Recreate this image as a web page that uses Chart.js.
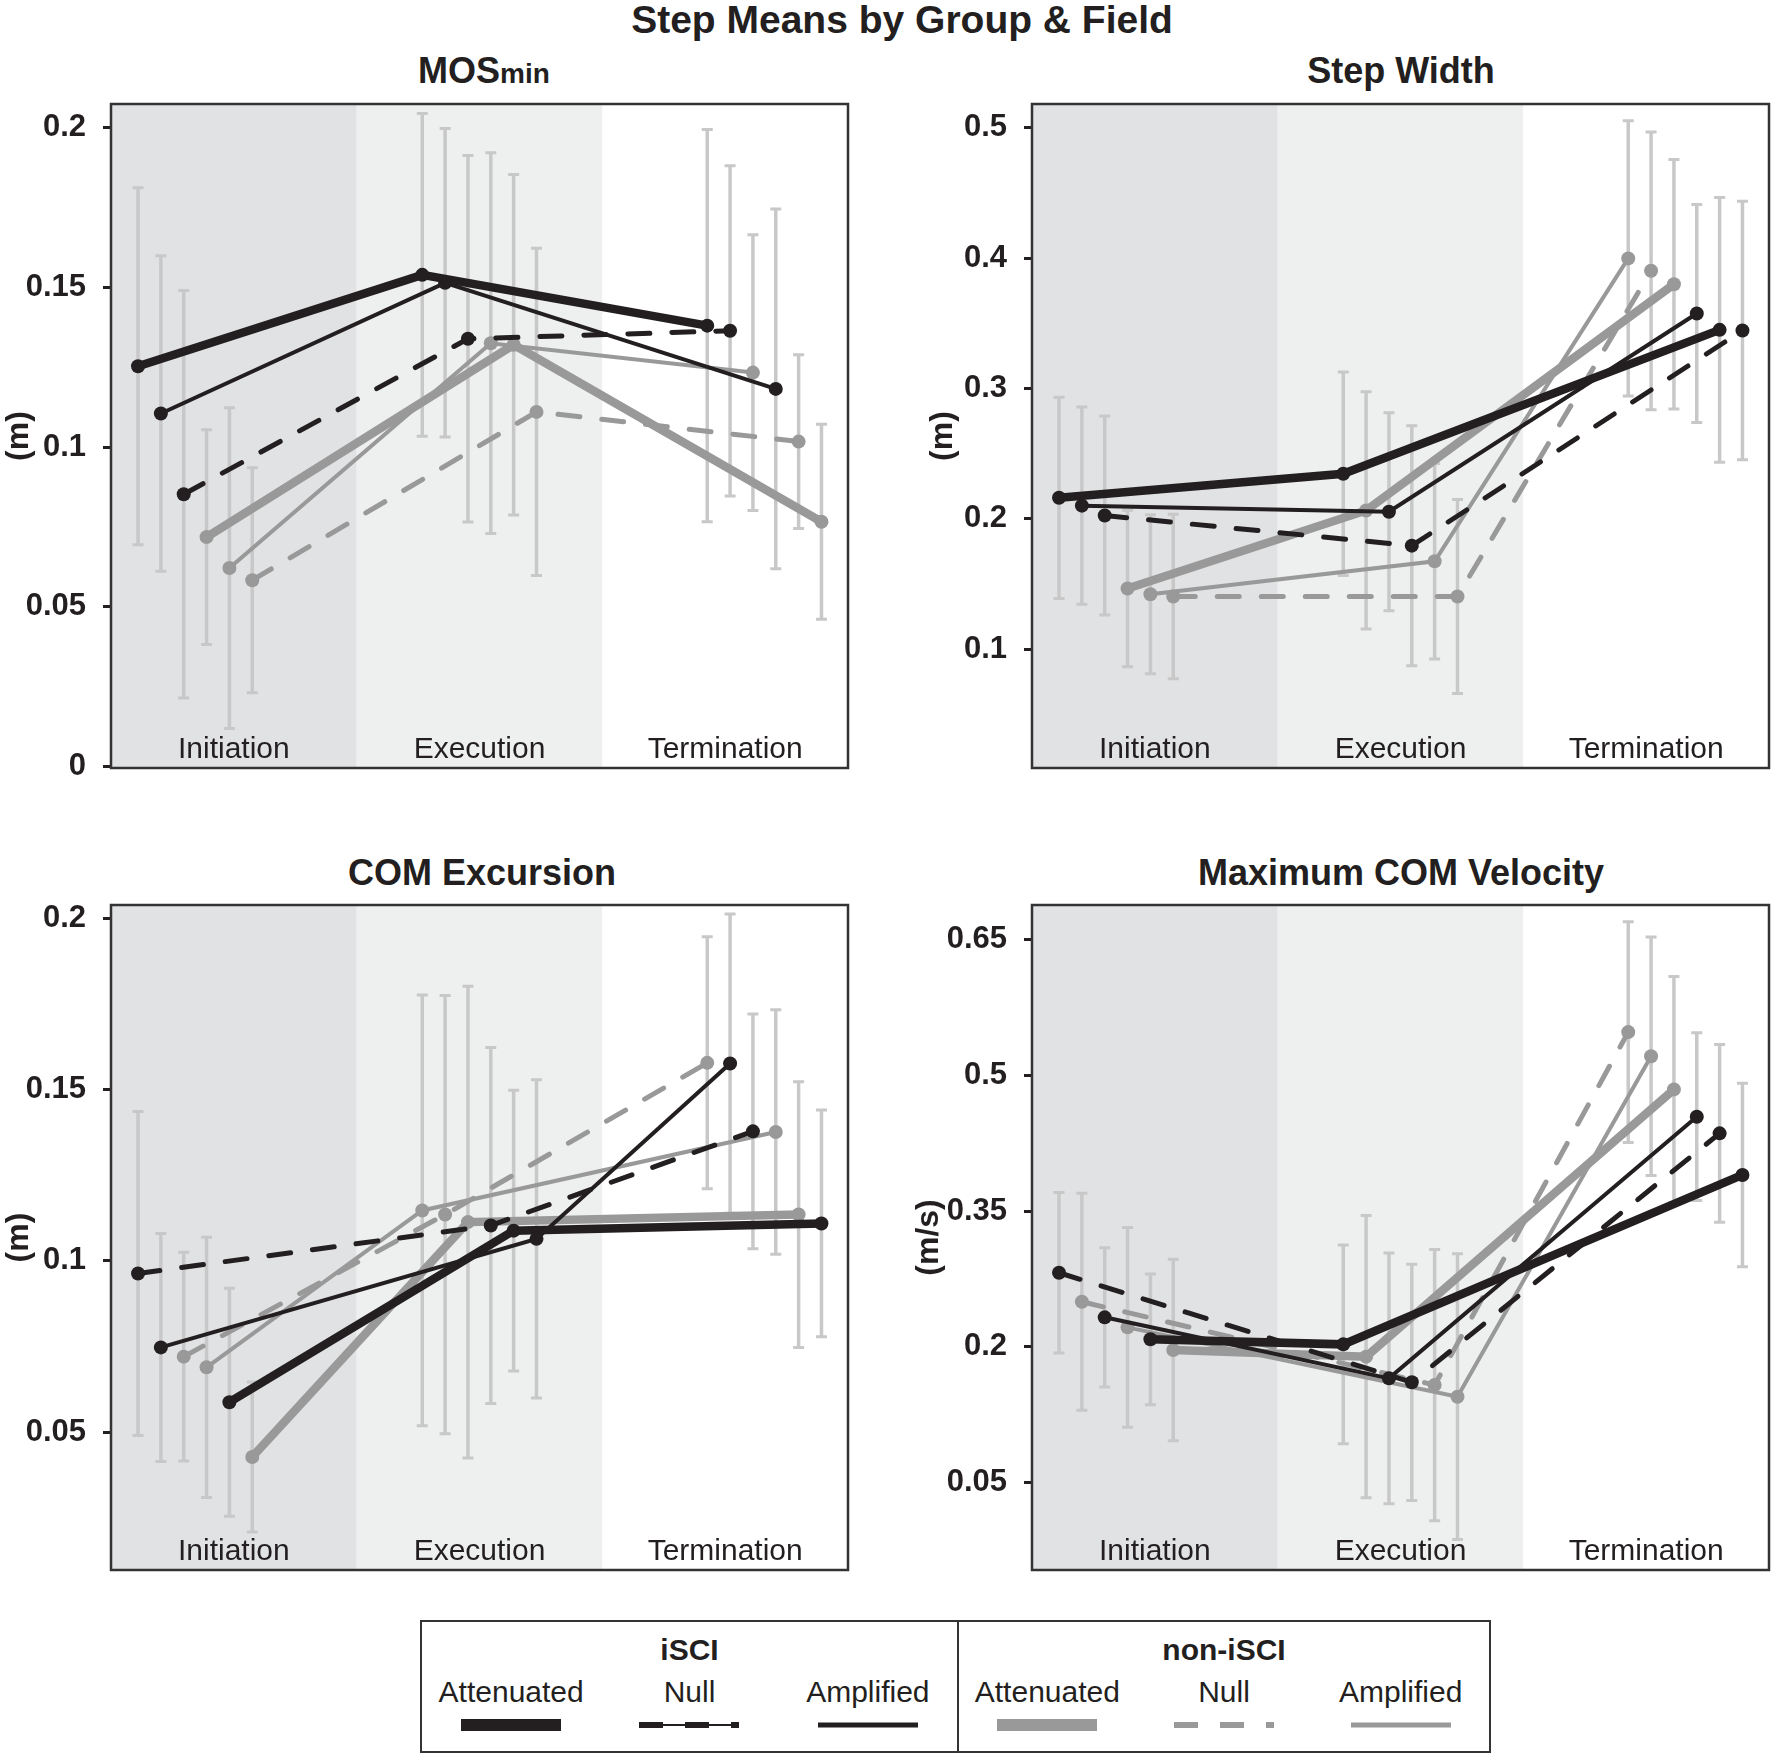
<!DOCTYPE html>
<html>
<head>
<meta charset="utf-8">
<script src="https://cdn.jsdelivr.net/npm/chart.js@4.4.0/dist/chart.umd.min.js"></script>
<style>
  body {
    margin: 0;
    width: 1776px;
    height: 1756px;
    position: relative;
    overflow: hidden;
    background: #fff;
    font-family: 'Liberation Sans', Arial, sans-serif;
    color: #231f20;
  }
  .title {
    position: absolute;
    transform: translate(-50%, -50%);
    font-weight: bold;
    white-space: nowrap;
  }
  #mainTitle { left: 902px; top: 20px; font-size: 39px; }
  .panelTitle { font-size: 36px; }
  .panelTitle .sub { font-size: 28px; }
  canvas { position: absolute; }

  #legend {
    position: absolute;
    left: 420px;
    top: 1620px;
    width: 1067px;
    height: 129px;
    border: 2px solid #333;
    display: flex;
  }
  .half { position: relative; width: 535px; }
  .half + .half { width: 530px; border-left: 2px solid #333; }
  .head {
    position: absolute; left: 0; right: 0; top: 8px;
    text-align: center; font-weight: bold; font-size: 30px; line-height: 40px;
  }
  .cols { position: absolute; left: 0; right: 0; top: 50px; display: flex; }
  .col { flex: 1; display: flex; flex-direction: column; align-items: center; }
  .lab { font-size: 30px; line-height: 40px; height: 40px; }
  .sw { width: 100px; height: 20px; margin-top: 3px; position: relative; }
  .sw div { position: absolute; left: 0; right: 0; top: 50%; transform: translateY(-50%); }
</style>
</head>
<body>
<div id="mainTitle" class="title">Step Means by Group &amp; Field</div>
<div id="legend"></div>

<script>
// Fields (x categories) and series
const fields = ['Initiation', 'Execution', 'Termination'];
const groups = ['iSCI', 'non-iSCI'];
const conditions = ['Attenuated', 'Null', 'Amplified'];

// rows: iSCI Att, iSCI Null, iSCI Amp, non-iSCI Att, non-iSCI Null, non-iSCI Amp
// columns: Initiation, Execution, Termination

// MOSmin (m)
const mosMeans = [
  [0.1253, 0.1539, 0.1380],
  [0.0852, 0.1339, 0.1364],
  [0.1105, 0.1514, 0.1182],
  [0.0718, 0.1320, 0.0766],
  [0.0583, 0.1110, 0.1017],
  [0.0621, 0.1325, 0.1233],
];
const mosSd = [
  [0.0559, 0.0505, 0.0614],
  [0.0638, 0.0574, 0.0517],
  [0.0494, 0.0483, 0.0563],
  [0.0336, 0.0533, 0.0305],
  [0.0352, 0.0512, 0.0272],
  [0.0502, 0.0596, 0.0432],
];
const mosTicks = [0, 0.05, 0.1, 0.15, 0.2];

// Step Width (m)
const widthMeans = [
  [0.2162, 0.2346, 0.3450],
  [0.2026, 0.1795, 0.3445],
  [0.2102, 0.2055, 0.3575],
  [0.1467, 0.2065, 0.3800],
  [0.1405, 0.1405, 0.3903],
  [0.1423, 0.1675, 0.3998],
];
const widthSd = [
  [0.0772, 0.0780, 0.1015],
  [0.0763, 0.0920, 0.0992],
  [0.0757, 0.0760, 0.0836],
  [0.0600, 0.0910, 0.0957],
  [0.0630, 0.0744, 0.1065],
  [0.0610, 0.0750, 0.1055],
];
const widthTicks = [0.1, 0.2, 0.3, 0.4, 0.5];

// COM Excursion (m)
const excMeans = [
  [0.0587, 0.1088, 0.1109],
  [0.0963, 0.1103, 0.1378],
  [0.0747, 0.1064, 0.1576],
  [0.0427, 0.1113, 0.1135],
  [0.0720, 0.1135, 0.1578],
  [0.0689, 0.1147, 0.1376],
];
const excSd = [
  [0.0333, 0.0410, 0.0331],
  [0.0473, 0.0520, 0.0343],
  [0.0333, 0.0465, 0.0437],
  [0.0219, 0.0689, 0.0388],
  [0.0305, 0.0640, 0.0368],
  [0.0380, 0.0629, 0.0357],
];
const excTicks = [0.05, 0.1, 0.15, 0.2];

// Maximum COM Velocity (m/s)
const velMeans = [
  [0.2082, 0.2026, 0.3900],
  [0.2818, 0.1606, 0.4360],
  [0.2325, 0.1650, 0.4544],
  [0.1964, 0.1890, 0.4846],
  [0.2497, 0.1576, 0.5480],
  [0.2214, 0.1447, 0.5213],
];
const velSd = [
  [0.0723, 0.1100, 0.1015],
  [0.0888, 0.1307, 0.0983],
  [0.0770, 0.1386, 0.0928],
  [0.1003, 0.1560, 0.1250],
  [0.1200, 0.1500, 0.1220],
  [0.1105, 0.1580, 0.1320],
];
const velTicks = [0.05, 0.2, 0.35, 0.5, 0.65];

const FONT = "'Liberation Sans', Arial, sans-serif";
const INK = '#231f20';
const GREY = '#999999';

const seriesStyles = [
  { color: INK, width: 8.5, dash: [] },
  { color: INK, width: 5, dash: [22, 22] },
  { color: INK, width: 4, dash: [] },
  { color: GREY, width: 8.5, dash: [] },
  { color: GREY, width: 5, dash: [22, 22] },
  { color: GREY, width: 4, dash: [] },
];
const seriesNames = groups.flatMap((g) => conditions.map((c) => g + ' ' + c));

// points are dodged inside each field, highest mean on the left
const fieldStart = [0.11, 1.267, 2.427];
const slotStep = 0.093;
const bandColors = ['#e1e2e4', '#eeefef', '#ffffff'];

const panels = [
  { title: 'MOS<span class="sub">min</span>', titleX: 484, titleY: 71, area: { x: 111, y: 104, w: 741, h: 664 },
    axisW: 111, yTitle: '(m)', yTitlePad: 0, min: -0.0005, max: 0.2074,
    ticks: mosTicks, means: mosMeans, sds: mosSd },
  { title: 'Step Width', titleX: 1401, titleY: 71, area: { x: 1032, y: 104, w: 741, h: 664 },
    axisW: 111, yTitle: '(m)', yTitlePad: 3, min: 0.009, max: 0.5182,
    ticks: widthTicks, means: widthMeans, sds: widthSd },
  { title: 'COM Excursion', titleX: 482, titleY: 873, area: { x: 111, y: 905, w: 741, h: 665 },
    axisW: 111, yTitle: '(m)', yTitlePad: 0, min: 0.0097, max: 0.2039,
    ticks: excTicks, means: excMeans, sds: excSd },
  { title: 'Maximum COM Velocity', titleX: 1401, titleY: 873, area: { x: 1032, y: 905, w: 741, h: 665 },
    axisW: 125, yTitle: '(m/s)', yTitlePad: 3, min: -0.047, max: 0.6886,
    ticks: velTicks, means: velMeans, sds: velSd },
];

// shaded field bands + field names
const bands = {
  id: 'bands',
  beforeDraw(chart) {
    const { ctx, chartArea: a, scales: { x } } = chart;
    ctx.save();
    fields.forEach((name, f) => {
      const x0 = x.getPixelForValue(f);
      const x1 = x.getPixelForValue(f + 1);
      ctx.fillStyle = bandColors[f];
      ctx.fillRect(x0, a.top, x1 - x0, a.bottom - a.top);
      ctx.fillStyle = INK;
      ctx.font = '30px ' + FONT;
      ctx.textAlign = 'center';
      ctx.textBaseline = 'alphabetic';
      ctx.fillText(name, (x0 + x1) / 2, a.bottom - 10);
    });
    ctx.restore();
  },
  afterDraw(chart) {
    const { ctx, chartArea: a } = chart;
    ctx.save();
    ctx.strokeStyle = '#333';
    ctx.lineWidth = 2.5;
    ctx.strokeRect(a.left, a.top, a.right - a.left, a.bottom - a.top);
    ctx.restore();
  },
};

// +/- SD whiskers behind the lines
const errorBars = {
  id: 'errorBars',
  beforeDatasetsDraw(chart) {
    const { ctx, scales: { y } } = chart;
    ctx.save();
    ctx.strokeStyle = '#c8c8c8';
    chart.data.datasets.forEach((ds, i) => {
      chart.getDatasetMeta(i).data.forEach((pt, j) => {
        const top = y.getPixelForValue(ds.data[j].y + ds.sd[j]);
        const bot = y.getPixelForValue(ds.data[j].y - ds.sd[j]);
        ctx.lineWidth = 3.5;
        ctx.beginPath();
        ctx.moveTo(pt.x, top);
        ctx.lineTo(pt.x, bot);
        ctx.stroke();
        ctx.lineWidth = 3;
        ctx.beginPath();
        ctx.moveTo(pt.x - 5.5, top);
        ctx.lineTo(pt.x + 5.5, top);
        ctx.moveTo(pt.x - 5.5, bot);
        ctx.lineTo(pt.x + 5.5, bot);
        ctx.stroke();
      });
    });
    ctx.restore();
  },
};

panels.forEach((p) => {
  const padTop = 24, padRight = 3, padBottom = 24;

  const t = document.createElement('div');
  t.className = 'title panelTitle';
  t.style.left = p.titleX + 'px';
  t.style.top = p.titleY + 'px';
  t.innerHTML = p.title;
  document.body.appendChild(t);

  const canvas = document.createElement('canvas');
  canvas.width = p.axisW + p.area.w + padRight;
  canvas.height = padTop + p.area.h + padBottom;
  canvas.style.left = p.area.x - p.axisW + 'px';
  canvas.style.top = p.area.y - padTop + 'px';
  document.body.appendChild(canvas);

  const datasets = p.means.map((row, s) => ({
    label: seriesNames[s],
    data: row.map((v, f) => {
      const rank = p.means.filter((r) => r[f] > v).length;
      return { x: fieldStart[f] + rank * slotStep, y: v };
    }),
    sd: p.sds[s],
    borderColor: seriesStyles[s].color,
    backgroundColor: seriesStyles[s].color,
    borderWidth: seriesStyles[s].width,
    borderDash: seriesStyles[s].dash,
    borderCapStyle: seriesStyles[s].dash.length ? 'round' : 'butt',
    pointRadius: 7,
    pointBorderWidth: 0,
    pointBackgroundColor: seriesStyles[s].color,
    tension: 0,
  }));

  new Chart(canvas.getContext('2d'), {
    type: 'line',
    data: { datasets },
    options: {
      responsive: false,
      animation: false,
      layout: { padding: { top: padTop, right: padRight, bottom: padBottom, left: 0 } },
      plugins: {
        legend: { display: false },
        tooltip: { enabled: false },
      },
      scales: {
        x: { type: 'linear', min: 0, max: 3, display: false },
        y: {
          type: 'linear',
          min: p.min,
          max: p.max,
          afterFit: (scale) => {
            scale.width = p.axisW;
            scale.paddingTop = 0;
            scale.paddingBottom = 0;
          },
          afterBuildTicks: (scale) => { scale.ticks = p.ticks.map((v) => ({ value: v })); },
          ticks: {
            font: { family: FONT, size: 31, weight: 'bold' },
            color: INK,
            padding: 17,
            callback: (v) => String(+v.toFixed(2)),
          },
          grid: {
            display: true,
            drawOnChartArea: false,
            drawTicks: true,
            tickLength: 8,
            tickWidth: 3,
            tickColor: INK,
          },
          border: { display: false },
          title: {
            display: true,
            text: p.yTitle,
            color: INK,
            font: { family: FONT, size: 32, weight: 'bold' },
            padding: { top: p.yTitlePad, bottom: 0 },
          },
        },
      },
    },
    plugins: [bands, errorBars],
  });
});

// Legend box
const legend = document.getElementById('legend');
groups.forEach((g, gi) => {
  const half = document.createElement('div');
  half.className = 'half';
  let html = '<div class="head">' + g + '</div><div class="cols">';
  conditions.forEach((c, ci) => {
    const st = seriesStyles[gi * 3 + ci];
    let sw;
    if (c === 'Attenuated') {
      sw = '<div style="height:12px;background:' + st.color + '"></div>';
    } else if (c === 'Amplified') {
      sw = '<div style="height:5px;background:' + st.color + '"></div>';
    } else {
      sw = (gi === 0 ? '<div style="height:2px;background:' + st.color + '"></div>' : '') +
        '<div style="height:6px;background:repeating-linear-gradient(90deg,' + st.color +
        ' 0 24px, transparent 24px 46px)"></div>';
    }
    html += '<div class="col"><div class="lab">' + c + '</div><div class="sw">' + sw + '</div></div>';
  });
  html += '</div>';
  half.innerHTML = html;
  legend.appendChild(half);
});
</script>
</body>
</html>
